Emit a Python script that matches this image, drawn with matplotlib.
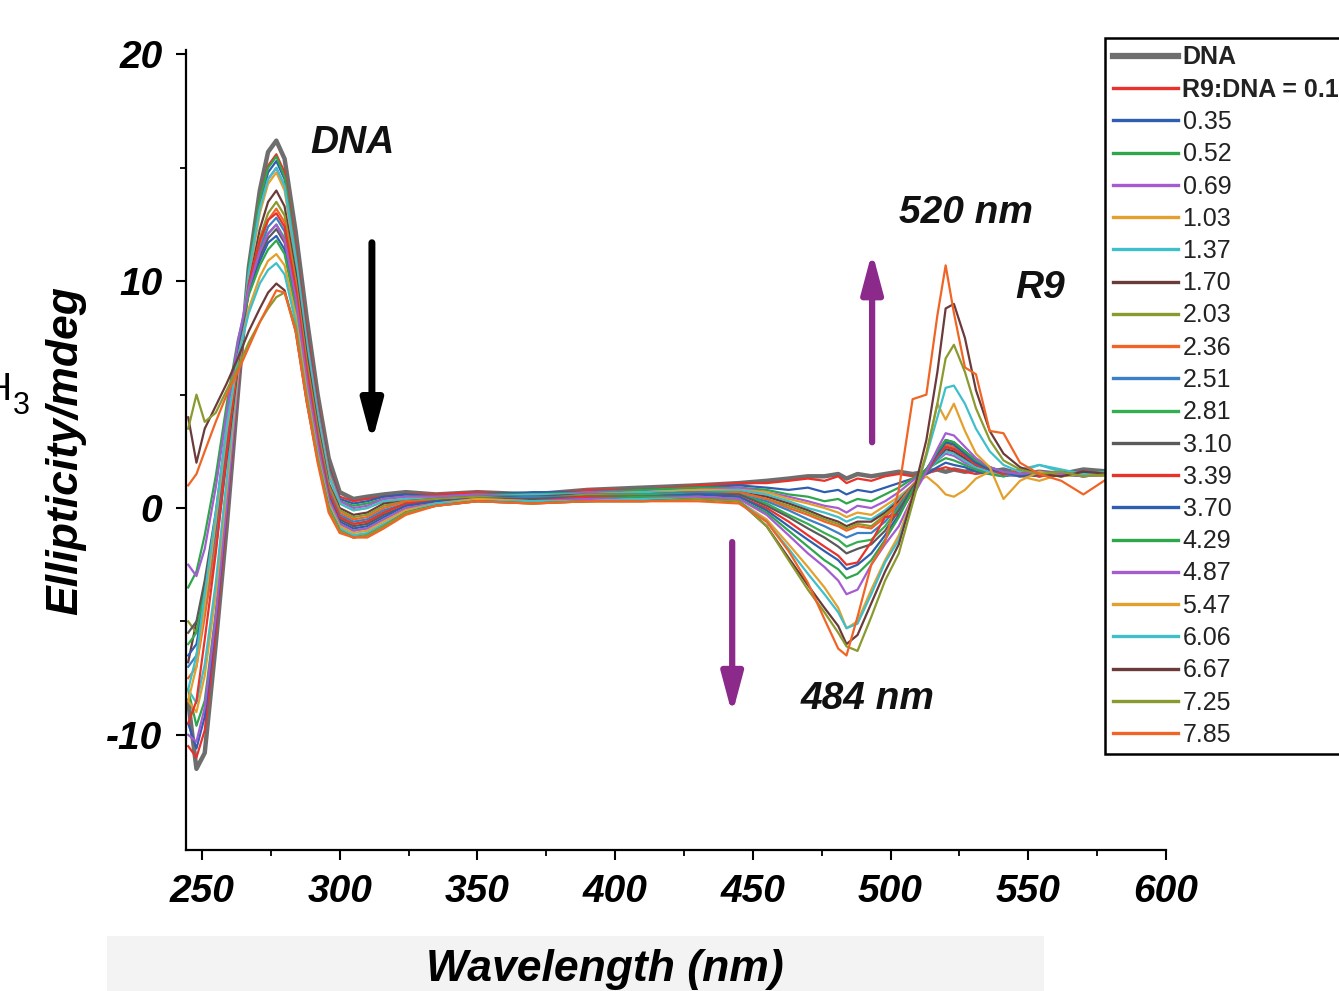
import matplotlib
matplotlib.use("Agg")
import matplotlib.pyplot as plt
from matplotlib.patches import Rectangle

plt.rcParams["font.family"] = ["Liberation Sans", "DejaVu Sans"]
plt.rcParams["axes.unicode_minus"] = False

# %%
# wavelength grid (nm) shared by all spectra
wavelength = [245, 248, 251, 255, 259, 263, 267, 271, 274, 277, 280, 284, 288, 292, 296, 300, 305, 310, 316, 324, 335,
              350, 370, 390, 410, 430, 445, 455, 463, 470, 476, 481, 484, 488, 493, 498, 503, 508, 513, 517, 520,
              523, 527, 531, 536, 541, 547, 554, 562, 570, 580, 590, 600]

# ellipticity (mdeg), one list per spectrum
dna = [-8.5, -11.5, -10.8, -6.0, -0.8, 5.0, 10.6, 14.0, 15.7, 16.2, 15.4, 12.2, 8.4, 5.0, 2.2, 0.7, 0.4, 0.5, 0.6, 0.7, 0.6,
       0.7, 0.6, 0.8, 0.9, 1.0, 1.1, 1.2, 1.3, 1.4, 1.4, 1.5, 1.3, 1.5, 1.4, 1.5, 1.6, 1.5, 1.6, 1.7, 1.6,
       1.7, 1.6, 1.7, 1.6, 1.7, 1.5, 1.6, 1.5, 1.7, 1.6, 1.5, 1.6]
r_017 = [-10.5, -11.0, -9.8, -5.5, -0.3, 5.2, 10.5, 13.6, 15.1, 15.6, 14.8, 11.6, 7.9, 4.7, 1.9, 0.5, 0.3, 0.4, 0.5, 0.6, 0.6,
         0.7, 0.6, 0.8, 0.8, 1.0, 1.1, 1.1, 1.2, 1.3, 1.2, 1.4, 1.1, 1.3, 1.2, 1.4, 1.5, 1.4, 1.5, 1.7, 1.8,
         1.7, 1.6, 1.5, 1.6, 1.5, 1.4, 1.6, 1.5, 1.6, 1.5, 1.4, 1.5]
r_035 = [-9.5, -10.6, -9.2, -5.0, 0.0, 5.4, 10.5, 13.4, 14.8, 15.3, 14.5, 11.3, 7.6, 4.5, 1.8, 0.4, 0.2, 0.3, 0.5, 0.6, 0.5,
         0.6, 0.7, 0.7, 0.8, 0.9, 1.0, 0.9, 0.8, 0.9, 0.7, 0.8, 0.6, 0.8, 0.7, 0.9, 1.1, 1.3, 1.5, 1.8, 2.0,
         1.9, 1.8, 1.6, 1.5, 1.4, 1.5, 1.4, 1.6, 1.5, 1.4, 1.5, 1.4]
r_052 = [-8.0, -9.6, -8.5, -4.6, 0.4, 5.6, 10.6, 13.6, 15.0, 15.5, 14.6, 11.3, 7.5, 4.4, 1.7, 0.3, 0.1, 0.2, 0.4, 0.5, 0.5,
         0.6, 0.6, 0.7, 0.8, 0.9, 0.9, 0.8, 0.6, 0.5, 0.3, 0.4, 0.2, 0.4, 0.3, 0.6, 0.9, 1.3, 1.7, 2.0, 2.2,
         2.1, 1.9, 1.7, 1.5, 1.4, 1.6, 1.5, 1.4, 1.6, 1.5, 1.4, 1.5]
r_069 = [-10.0, -10.3, -8.8, -4.8, 0.2, 5.5, 10.3, 13.2, 14.5, 15.0, 14.2, 11.1, 7.4, 4.3, 1.6, 0.3, 0.0, 0.1, 0.4, 0.5, 0.5,
         0.6, 0.5, 0.7, 0.7, 0.8, 0.9, 0.7, 0.5, 0.3, 0.1, 0.0, -0.2, 0.1, 0.0, 0.3, 0.7, 1.2, 1.7, 2.1, 2.4,
         2.3, 2.0, 1.8, 1.6, 1.5, 1.4, 1.6, 1.5, 1.4, 1.5, 1.6, 1.5]
r_103 = [-8.5, -9.0, -7.4, -3.8, 0.9, 5.8, 10.2, 13.0, 14.3, 14.8, 14.0, 10.9, 7.2, 4.1, 1.5, 0.2, -0.1, 0.0, 0.3, 0.4, 0.4,
         0.5, 0.5, 0.6, 0.7, 0.8, 0.8, 0.7, 0.4, 0.2, 0.0, -0.2, -0.4, -0.2, -0.3, 0.1, 0.5, 1.0, 1.4, 1.0, 0.6,
         0.5, 0.8, 1.3, 1.6, 1.5, 1.4, 1.2, 1.5, 1.4, 1.6, 1.5, 1.4]
r_137 = [-8.0, -8.6, -6.9, -3.3, 1.3, 6.1, 10.4, 13.2, 14.5, 15.0, 14.2, 11.0, 7.3, 4.1, 1.4, 0.2, -0.1, 0.0, 0.3, 0.4, 0.4,
         0.5, 0.6, 0.6, 0.7, 0.7, 0.8, 0.6, 0.3, 0.0, -0.2, -0.4, -0.6, -0.4, -0.5, -0.1, 0.4, 1.0, 1.6, 2.1, 2.5,
         2.4, 2.1, 1.8, 1.6, 1.5, 1.7, 1.9, 1.6, 1.4, 1.5, 1.6, 1.5]
r_170 = [-6.8, -5.0, -4.6, -1.8, 2.2, 6.2, 9.8, 12.3, 13.5, 14.0, 13.3, 10.4, 6.8, 3.7, 1.1, 0.0, -0.3, -0.2, 0.2, 0.3, 0.4,
         0.5, 0.5, 0.6, 0.6, 0.7, 0.7, 0.5, 0.2, -0.1, -0.4, -0.6, -0.8, -0.6, -0.6, -0.2, 0.3, 1.0, 1.6, 2.2, 2.6,
         2.5, 2.2, 1.9, 1.7, 1.5, 1.6, 1.4, 1.5, 1.6, 1.4, 1.5, 1.4]
r_203 = [-5.0, -5.5, -3.8, -0.8, 3.0, 6.6, 9.7, 11.9, 13.0, 13.5, 12.9, 10.1, 6.5, 3.5, 1.0, -0.1, -0.4, -0.3, 0.1, 0.3, 0.4,
         0.5, 0.4, 0.6, 0.6, 0.7, 0.7, 0.4, 0.1, -0.2, -0.5, -0.7, -0.9, -0.7, -0.8, -0.3, 0.2, 1.0, 1.7, 2.3, 2.7,
         2.6, 2.3, 2.0, 1.7, 1.5, 1.6, 1.5, 1.4, 1.6, 1.5, 1.4, 1.5]
r_236 = [-7.5, -7.0, -4.8, -1.5, 2.6, 6.4, 9.5, 11.6, 12.7, 13.2, 12.6, 9.9, 6.3, 3.3, 0.9, -0.2, -0.5, -0.4, 0.0, 0.3, 0.3,
         0.4, 0.4, 0.5, 0.6, 0.6, 0.7, 0.4, 0.0, -0.3, -0.6, -0.8, -1.0, -0.8, -0.9, -0.4, 0.2, 1.0, 1.7, 2.3, 2.8,
         2.7, 2.4, 2.0, 1.7, 1.5, 1.7, 1.5, 1.6, 1.4, 1.5, 1.6, 1.5]
r_251 = [-7.0, -6.5, -4.3, -1.0, 3.0, 6.7, 9.6, 11.4, 12.4, 12.8, 12.2, 9.6, 6.1, 3.2, 0.8, -0.3, -0.6, -0.5, -0.1, 0.2, 0.3,
         0.4, 0.5, 0.5, 0.6, 0.7, 0.6, 0.3, -0.1, -0.5, -0.8, -1.1, -1.3, -1.1, -1.1, -0.6, 0.1, 0.9, 1.6, 2.2, 2.7,
         2.6, 2.3, 1.9, 1.7, 1.5, 1.4, 1.6, 1.5, 1.4, 1.6, 1.5, 1.4]
r_281 = [-6.0, -5.5, -3.5, -0.5, 3.4, 6.9, 9.6, 11.3, 12.1, 12.5, 11.9, 9.4, 5.9, 3.0, 0.7, -0.4, -0.7, -0.6, -0.2, 0.2, 0.3,
         0.4, 0.4, 0.5, 0.6, 0.6, 0.6, 0.2, -0.3, -0.7, -1.1, -1.4, -1.7, -1.5, -1.4, -0.8, 0.0, 0.9, 1.7, 2.3, 2.9,
         2.8, 2.4, 2.0, 1.7, 1.6, 1.5, 1.6, 1.4, 1.5, 1.6, 1.5, 1.4]
r_310 = [-5.5, -5.0, -3.2, -0.2, 3.6, 7.0, 9.6, 11.1, 11.9, 12.3, 11.7, 9.2, 5.7, 2.9, 0.6, -0.5, -0.8, -0.7, -0.3, 0.1, 0.3,
         0.4, 0.4, 0.5, 0.5, 0.6, 0.6, 0.1, -0.4, -0.9, -1.3, -1.7, -2.0, -1.8, -1.6, -1.0, -0.1, 0.9, 1.7, 2.4, 3.0,
         2.9, 2.5, 2.1, 1.8, 1.6, 1.5, 1.4, 1.6, 1.5, 1.4, 1.5, 1.6]
r_339 = [-9.5, -8.5, -5.8, -2.0, 2.4, 6.6, 9.9, 11.8, 12.7, 13.0, 12.4, 9.7, 6.1, 3.1, 0.7, -0.4, -0.7, -0.6, -0.2, 0.2, 0.3,
         0.4, 0.3, 0.5, 0.5, 0.6, 0.5, 0.0, -0.6, -1.2, -1.7, -2.1, -2.5, -2.4, -1.5, -0.4, -0.3, 0.7, 1.6, 2.3, 2.7,
         2.6, 2.3, 1.9, 1.7, 1.5, 1.6, 1.4, 1.5, 1.6, 1.4, 1.5, 1.4]
r_370 = [-6.5, -6.0, -4.0, -0.8, 3.3, 6.9, 9.5, 10.9, 11.7, 12.0, 11.4, 9.0, 5.6, 2.8, 0.5, -0.6, -0.9, -0.8, -0.4, 0.1, 0.3,
         0.4, 0.3, 0.4, 0.5, 0.6, 0.5, -0.1, -0.8, -1.4, -1.9, -2.3, -2.7, -2.5, -2.0, -1.2, -0.3, 0.8, 1.7, 2.4, 2.9,
         2.8, 2.4, 2.0, 1.7, 1.6, 1.4, 1.5, 1.4, 1.6, 1.5, 1.4, 1.5]
r_429 = [-3.5, -2.8, -1.2, 1.4, 4.6, 7.4, 9.4, 10.7, 11.4, 11.8, 11.2, 8.8, 5.4, 2.6, 0.4, -0.7, -1.0, -0.9, -0.5, 0.0, 0.2,
         0.4, 0.3, 0.4, 0.5, 0.5, 0.4, -0.2, -1.0, -1.7, -2.3, -2.7, -3.1, -2.9, -2.3, -1.4, -0.4, 0.8, 1.7, 2.5, 3.0,
         2.9, 2.5, 2.1, 1.8, 1.6, 1.5, 1.6, 1.5, 1.4, 1.6, 1.5, 1.4]
r_487 = [-2.5, -3.0, -1.8, 0.9, 4.2, 7.3, 9.7, 11.3, 12.1, 12.5, 11.8, 9.3, 5.7, 2.8, 0.4, -0.7, -1.0, -0.9, -0.5, 0.0, 0.2,
         0.4, 0.3, 0.4, 0.4, 0.5, 0.4, -0.3, -1.2, -2.0, -2.6, -3.2, -3.8, -3.6, -2.5, -1.6, -0.8, 0.5, 1.6, 2.6, 3.3,
         3.2, 2.7, 2.2, 1.8, 1.6, 1.5, 1.6, 1.5, 1.4, 1.5, 1.6, 1.5]
r_547 = [-8.5, -7.0, -4.3, -0.6, 3.4, 6.6, 8.8, 10.2, 10.9, 11.2, 10.7, 8.5, 5.2, 2.4, 0.2, -0.8, -1.1, -1.0, -0.6, -0.1, 0.2,
         0.4, 0.3, 0.3, 0.4, 0.4, 0.3, -0.5, -1.6, -2.6, -3.5, -4.4, -5.3, -5.0, -3.6, -2.3, -1.2, 0.5, 2.4, 4.6, 3.9,
         4.6, 3.4, 2.4, 1.8, 0.4, 1.2, 1.6, 1.4, 1.5, 1.4, 1.5, 1.4]
r_606 = [-8.0, -6.5, -3.8, -0.2, 3.6, 6.6, 8.6, 9.9, 10.5, 10.8, 10.3, 8.2, 5.0, 2.3, 0.1, -0.9, -1.2, -1.1, -0.7, -0.2, 0.2,
         0.3, 0.3, 0.3, 0.4, 0.4, 0.3, -0.6, -1.8, -2.9, -3.8, -4.6, -5.3, -5.1, -3.8, -2.4, -1.4, 0.4, 2.3, 4.0, 5.3,
         5.4, 4.6, 3.5, 2.5, 1.9, 1.6, 1.9, 1.7, 1.5, 1.6, 1.5, 1.4]
r_667 = [4.0, 2.0, 3.5, 4.5, 5.5, 6.6, 7.8, 8.8, 9.5, 9.9, 9.6, 7.8, 4.7, 2.1, 0.0, -1.0, -1.3, -1.2, -0.8, -0.2, 0.1,
         0.3, 0.2, 0.3, 0.3, 0.4, 0.3, -0.8, -2.2, -3.4, -4.4, -5.2, -6.0, -5.6, -4.2, -2.8, -1.6, 0.5, 3.0, 6.0, 8.8,
         9.0, 7.5, 5.2, 3.4, 2.4, 1.8, 1.5, 1.4, 1.6, 1.5, 1.4, 1.5]
r_725 = [3.5, 5.0, 3.8, 4.2, 5.2, 6.2, 7.3, 8.2, 8.8, 9.3, 9.5, 8.0, 4.9, 2.2, 0.0, -1.0, -1.3, -1.2, -0.8, -0.2, 0.1,
         0.3, 0.2, 0.3, 0.3, 0.4, 0.3, -0.8, -2.3, -3.6, -4.6, -5.5, -6.1, -6.3, -4.8, -3.2, -2.0, 0.2, 2.4, 4.6, 6.6,
         7.2, 6.0, 4.4, 3.0, 2.1, 1.7, 1.5, 1.6, 1.4, 1.5, 1.6, 1.5]
r_785 = [1.0, 1.5, 2.5, 3.8, 5.0, 6.0, 7.1, 8.2, 8.9, 9.6, 9.5, 7.8, 4.7, 2.0, -0.2, -1.1, -1.3, -1.3, -0.9, -0.3, 0.1,
         0.3, 0.2, 0.3, 0.3, 0.3, 0.2, -0.6, -1.9, -3.3, -4.9, -6.2, -6.5, -4.8, -2.5, -1.5, 0.8, 4.8, 5.0, 8.5, 10.7,
         8.6, 6.2, 5.9, 3.4, 3.3, 2.0, 1.5, 1.2, 0.6, 1.4, 1.6, 1.5]

spectra = [dna, r_017, r_035, r_052, r_069, r_103, r_137, r_170, r_203, r_236, r_251,
           r_281, r_310, r_339, r_370, r_429, r_487, r_547, r_606, r_667, r_725, r_785]
labels = ["DNA", "R9:DNA = 0.17", "0.35", "0.52", "0.69", "1.03", "1.37", "1.70", "2.03", "2.36", "2.51",
          "2.81", "3.10", "3.39", "3.70", "4.29", "4.87", "5.47", "6.06", "6.67", "7.25", "7.85"]
colors = ["#6e6e6e", "#e8322b", "#2f5db0", "#2ea64a", "#a45cd0", "#e3a02c", "#3fbfca", "#6b3a3a", "#8a9a2e",
          "#f06525", "#3b80c6", "#35ae50", "#5a5a5a", "#e8322b", "#2f5db0", "#2ea64a", "#a45cd0", "#e3a02c",
          "#3fbfca", "#6b3a3a", "#8a9a2e", "#f06525"]

# %%
fig = plt.figure(figsize=(13.39, 9.91), dpi=100)
ax = fig.add_axes([0.1389, 0.1418, 0.7319, 0.8078])

# faint grey smudge under the x label, as in the scanned figure
fig.patches.append(Rectangle((0.08, 0.0), 0.70, 0.055, transform=fig.transFigure,
                             facecolor="#f3f3f3", edgecolor="none", zorder=-5))

for i, (vals, lab, col) in enumerate(zip(spectra, labels, colors)):
    lw = 3.2 if i == 0 else 1.6
    ax.plot(wavelength, vals, color=col, lw=lw, label=lab, solid_joinstyle="round")

ax.set_xlim(244.2, 600)
ax.set_ylim(-15.1, 20.2)
ax.set_xticks(range(250, 601, 50))
ax.set_xticks(range(275, 600, 50), minor=True)
ax.set_yticks([-10, 0, 10, 20])
ax.set_yticks([-5, 5, 15], minor=True)

for side in ["top", "right"]:
    ax.spines[side].set_visible(False)
for side in ["left", "bottom"]:
    ax.spines[side].set_linewidth(1.6)

ax.tick_params(which="major", direction="out", length=7, width=1.5, pad=10)
ax.tick_params(which="minor", direction="out", length=4.5, width=1.3)
for lab in ax.get_xticklabels() + ax.get_yticklabels():
    lab.set_fontsize(28)
    lab.set_fontweight("bold")
    lab.set_fontstyle("italic")

ax.set_xlabel("Wavelength (nm)", fontsize=32, fontweight="bold", fontstyle="italic", labelpad=28)
ax.xaxis.label.set_x((605 - 186) / 980)
ax.set_ylabel("Ellipticity/mdeg", fontsize=32, fontweight="bold", fontstyle="italic", labelpad=14)

# annotations
txt = dict(fontsize=28, fontweight="bold", fontstyle="italic", ha="center", va="center", color="#111111")
ax.text(304.8, 16.1, "DNA", **txt)
ax.text(527.4, 13.0, "520 nm", **txt)
ax.text(554.3, 9.7, "R9", **txt)
ax.text(491.5, -8.4, "484 nm", **txt)

arrow_style = "-|>,head_length=1.2,head_width=0.32"
ax.annotate("", xy=(311.7, 2.9), xytext=(311.7, 11.7),
            arrowprops=dict(arrowstyle=arrow_style, lw=5, color="black", mutation_scale=20,
                            shrinkA=0, shrinkB=0))
ax.annotate("", xy=(493.3, 11.3), xytext=(493.3, 2.9),
            arrowprops=dict(arrowstyle=arrow_style, lw=4.5, color="#8c2a8c", mutation_scale=20,
                            shrinkA=0, shrinkB=0))
ax.annotate("", xy=(442.5, -9.1), xytext=(442.5, -1.5),
            arrowprops=dict(arrowstyle=arrow_style, lw=4.5, color="#8c2a8c", mutation_scale=20,
                            shrinkA=0, shrinkB=0))

# legend, running off the right edge like the cropped original
leg = ax.legend(loc="upper left", bbox_to_anchor=(1105 / 1339, 1 - 38 / 991), bbox_transform=fig.transFigure,
                borderaxespad=0, frameon=True, fancybox=False, fontsize=18, handlelength=2.6,
                handletextpad=0.2, labelspacing=0.33, borderpad=0.3)
leg.get_frame().set_edgecolor("black")
leg.get_frame().set_linewidth(1.8)
leg.get_frame().set_alpha(1)
for i, t in enumerate(leg.get_texts()):
    t.set_color("#222222")
    if i < 2:
        t.set_fontweight("bold")
for i, h in enumerate(leg.get_lines()):
    h.set_linewidth(4.5 if i == 0 else 2.4)

# cropped label of the neighbouring panel
fig.text(12 / 1339, 1 - 400 / 991, "H", fontsize=28, ha="right", va="baseline")
fig.text(13 / 1339, 1 - 414 / 991, "3", fontsize=22, ha="left", va="baseline")

fig.savefig("out.png", dpi=100)
